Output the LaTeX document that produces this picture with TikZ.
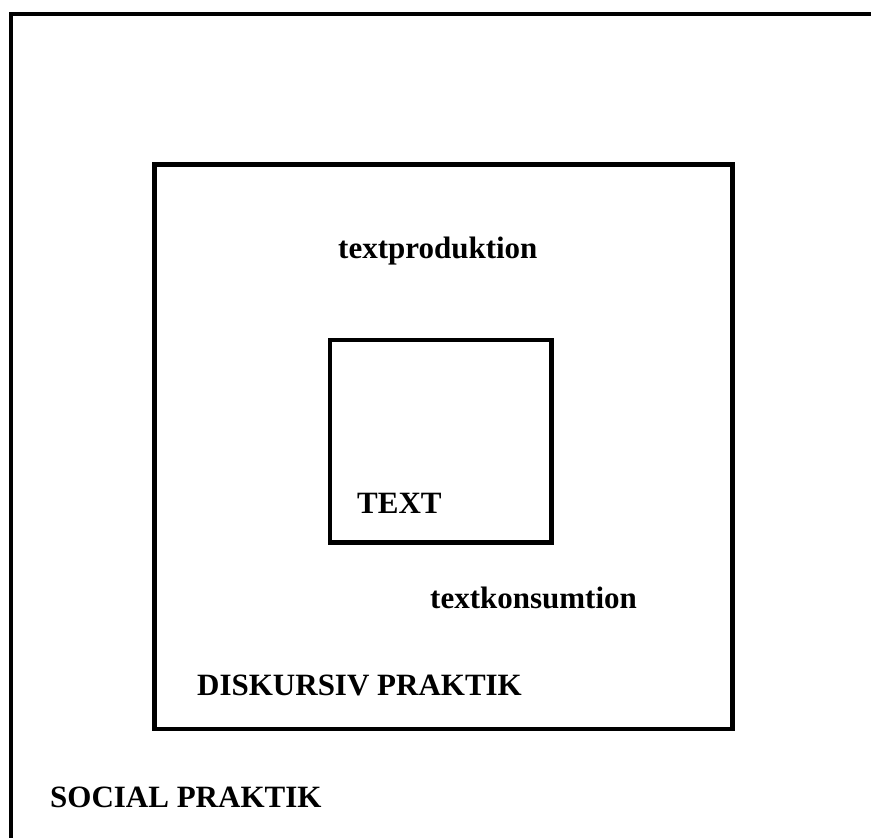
\documentclass[tikz,border=0pt]{standalone}
\usepackage{fontspec}
\setmainfont{Liberation Serif}
\begin{document}
\begin{tikzpicture}[x=1pt, y=-1pt,
            frame/.style={rectangle, draw=black, line width=4.5pt, anchor=north west, inner sep=0pt, outer sep=0pt},
            label/.style={anchor=base west, inner sep=0pt, font=\fontsize{31}{36}\selectfont\bfseries}
        ]
            \useasboundingbox (0,0) rectangle (871,838);
            \clip (0,0) rectangle (871,838);
            \node(socialbox) at (11,14) [frame, minimum width=900pt, minimum height=900pt] {};
            \node(diskursivbox) at (154.5,164.5) [frame, minimum width=578pt, minimum height=564.5pt] {};
            \node(textbox) at (330,340) [frame, minimum width=221.5pt, minimum height=202.5pt] {};
            \node(produktion) at (338,258) [label] {textproduktion};
            \node(text) at (357,513) [label] {TEXT};
            \node(konsumtion) at (430,608) [label] {textkonsumtion};
            \node(diskursiv) at (197,695) [label] {DISKURSIV PRAKTIK};
            \node(social) at (50,807) [label] {SOCIAL PRAKTIK};
        \end{tikzpicture}
\end{document}
